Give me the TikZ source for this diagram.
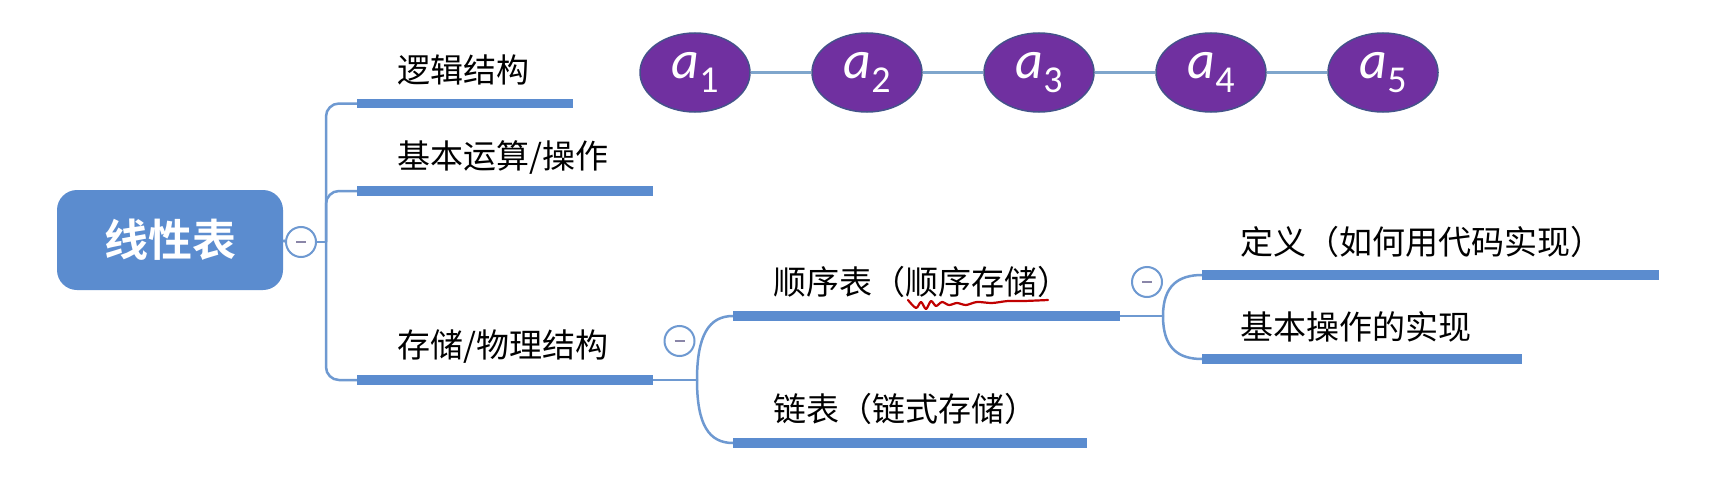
\documentclass[tikz,border=0pt]{standalone}
\usepackage{fontspec}
\setmainfont{Noto Sans CJK SC}[BoldFont={Noto Sans CJK SC Bold}]
\newfontfamily\elemfont{Carlito}
\usepackage{tikz}
\usetikzlibrary{shapes.geometric}
\definecolor{mblue}{HTML}{5B8CCF}
\definecolor{lblue}{HTML}{6E99D1}
\definecolor{mpurple}{HTML}{7030A0}
\definecolor{medge}{HTML}{44528A}
\definecolor{mlink}{HTML}{7FA6CC}
\definecolor{mdash}{HTML}{8A86A8}
\definecolor{mred}{HTML}{C00000}
\tikzset{topic/.style = {anchor=west, inner sep=0, font=\fontsize{33}{33}\selectfont}}
\tikzset{uline/.style = {mblue, line width=9.5}}
\tikzset{conn/.style = {lblue, line width=2.5}}
\tikzset{fold/.style = {circle, draw=lblue, line width=2, fill=white, minimum size=30, inner sep=0,
                        path picture={\draw[mdash, line width=2.5]
                          ([xshift=-5]path picture bounding box.center) -- ([xshift=5]path picture bounding box.center);}}}
\tikzset{elem/.style = {ellipse, draw=medge, line width=1.5, fill=mpurple, minimum width=110, minimum height=79,
                        inner sep=0, text=white, font=\elemfont\fontsize{54}{54}\selectfont}}
\tikzset{elink/.style = {mlink, line width=3}}
\newcommand{\elemsub}[1]{\textit{a}\raisebox{-14pt}{\fontsize{38}{38}\selectfont #1}}

\begin{document}
\begin{tikzpicture}[x=1pt, y=-1pt]
           \fill [white] (0, 0) rectangle (1735, 495);
           \useasboundingbox (0, 0) rectangle (1735, 495);

           \node [fill=mblue, rounded corners=20, minimum width=226, minimum height=100, text=white,
                  font=\bfseries\fontsize{44}{44}\selectfont] (root) at (170, 240) {线性表};
           \node [fold] (f1) at (301, 242) {};
           \coordinate (h1) at (326, 242);

           \coordinate (luoji-s) at (357, 103.5);
           \coordinate (luoji-e) at (573, 103.5);
           \coordinate (yunsuan-s) at (357, 191);
           \coordinate (yunsuan-e) at (653, 191);
           \coordinate (cunchu-s) at (357, 380);
           \coordinate (cunchu-e) at (653, 380);
           \node [topic] (luoji) at (397, 70) {逻辑结构};
           \node [topic] (yunsuan) at (397, 158) {基本运算/操作};
           \node [topic] (cunchu) at (397, 347) {存储/物理结构};

           \node [fold] (f2) at (679.5, 341) {};
           \coordinate (h2) at (697, 380);
           \coordinate (shunxu-s) at (733, 316);
           \coordinate (shunxu-e) at (1120, 316);
           \coordinate (lianbiao-s) at (733, 443);
           \coordinate (lianbiao-e) at (1087, 443);
           \node [topic] (shunxu) at (773, 282) {顺序表（顺序存储）};
           \node [topic] (lianbiao) at (773, 409) {链表（链式存储）};

           \node [fold] (f3) at (1147, 282) {};
           \coordinate (h3) at (1163, 316);
           \coordinate (dingyi-s) at (1202, 275);
           \coordinate (dingyi-e) at (1659, 275);
           \coordinate (shixian-s) at (1202, 359);
           \coordinate (shixian-e) at (1522, 359);
           \node [topic] (dingyi) at (1240, 242) {定义（如何用代码实现）};
           \node [topic] (shixian) at (1240, 327) {基本操作的实现};

           \draw [conn] (root.east) -- (f1.west);
           \draw [conn] (f1.east) -- (h1);
           \draw [conn, rounded corners=13] (luoji-s) -| (h1) |- (cunchu-s);
           \draw [conn, rounded corners=13] (h1) |- (yunsuan-s);
           \draw [conn] (cunchu-e) -- (h2);
           \draw [conn] (h2) .. controls +(0, -45) and +(-24, 0) .. (shunxu-s);
           \draw [conn] (h2) .. controls +(0, 45) and +(-24, 0) .. (lianbiao-s);
           \draw [conn] (shunxu-e) -- (h3);
           \draw [conn] (h3) .. controls +(0, -30) and +(-24, 0) .. (dingyi-s);
           \draw [conn] (h3) .. controls +(0, 32) and +(-24, 0) .. (shixian-s);

           \draw [uline] (luoji-s) -- (luoji-e);
           \draw [uline] (yunsuan-s) -- (yunsuan-e);
           \draw [uline] (cunchu-s) -- (cunchu-e);
           \draw [uline] (shunxu-s) -- (shunxu-e);
           \draw [uline] (lianbiao-s) -- (lianbiao-e);
           \draw [uline] (dingyi-s) -- (dingyi-e);
           \draw [uline] (shixian-s) -- (shixian-e);

           \draw [mred, line width=2.2, line cap=round, line join=round] plot [smooth] coordinates
                 {(908, 300) (916, 308) (921, 302) (926, 309) (931, 301) (936, 306) (942, 302) (949, 305)
                  (957, 303) (966, 305) (977, 302) (992, 303) (1008, 301) (1024, 301) (1048, 300)};

           \node [elem] (a1) at (695, 72.5) {\elemsub{1}};
           \node [elem] (a2) at (867, 72.5) {\elemsub{2}};
           \node [elem] (a3) at (1039, 72.5) {\elemsub{3}};
           \node [elem] (a4) at (1211, 72.5) {\elemsub{4}};
           \node [elem] (a5) at (1383, 72.5) {\elemsub{5}};
           \draw [elink] (a1) -- (a2);
           \draw [elink] (a2) -- (a3);
           \draw [elink] (a3) -- (a4);
           \draw [elink] (a4) -- (a5);
         \end{tikzpicture}
\end{document}
